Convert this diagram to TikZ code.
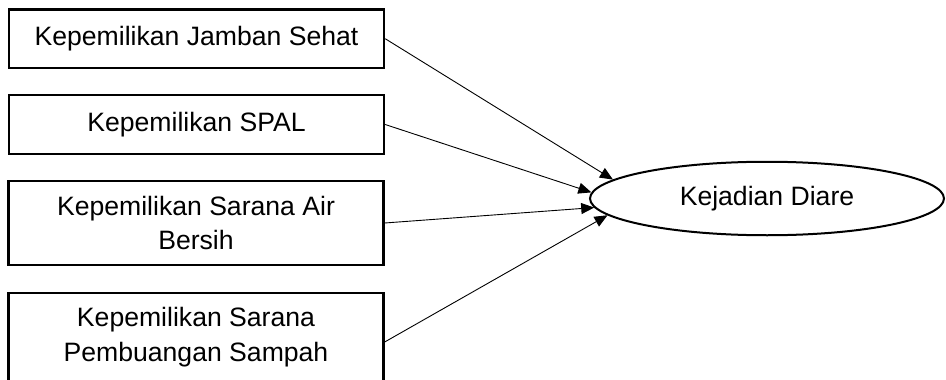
\documentclass[tikz,border=0pt]{standalone}
\usepackage{fontspec}
\setmainfont{Liberation Sans}
\usetikzlibrary{shapes.geometric,arrows.meta}
\begin{document}
\begin{tikzpicture}[x=1pt,y=-1pt,
  factor/.style={draw,line width=2.4pt,minimum width=375pt,inner sep=0pt,align=center,
    font=\fontsize{26.6}{34.5}\selectfont},
  outcome/.style={draw,ellipse,line width=2pt,minimum width=354pt,minimum height=73.5pt,inner sep=0pt,
    font=\fontsize{26.6}{30}\selectfont},
  link/.style={line width=0.9pt,-{Triangle[length=13pt,width=11pt]}}]
\useasboundingbox (0,0) rectangle (946,380);
\node[factor,minimum height=58.5pt] (b1) at (196.5,38.7) {Kepemilikan Jamban Sehat};
\node[factor,minimum height=58.5pt] (b2) at (196.5,124.5) {Kepemilikan SPAL};
\node[factor,minimum height=83.5pt] (b3) at (196,223) {Kepemilikan Sarana Air\\Bersih};
\node[factor,minimum height=88pt] (b4) at (196,337) {Kepemilikan Sarana\\Pembuangan Sampah};
\node[outcome] (e) at (767,198.5) {Kejadian Diare};
\draw[link] (b1.east) -- (e.173.9);
\draw[link] (b2.east) -- (e.178);
\draw[link] (b3.east) -- (e.183.3);
\draw[link] ([yshift=-5pt]b4.east) -- (e.186.1);
\end{tikzpicture}
\end{document}
